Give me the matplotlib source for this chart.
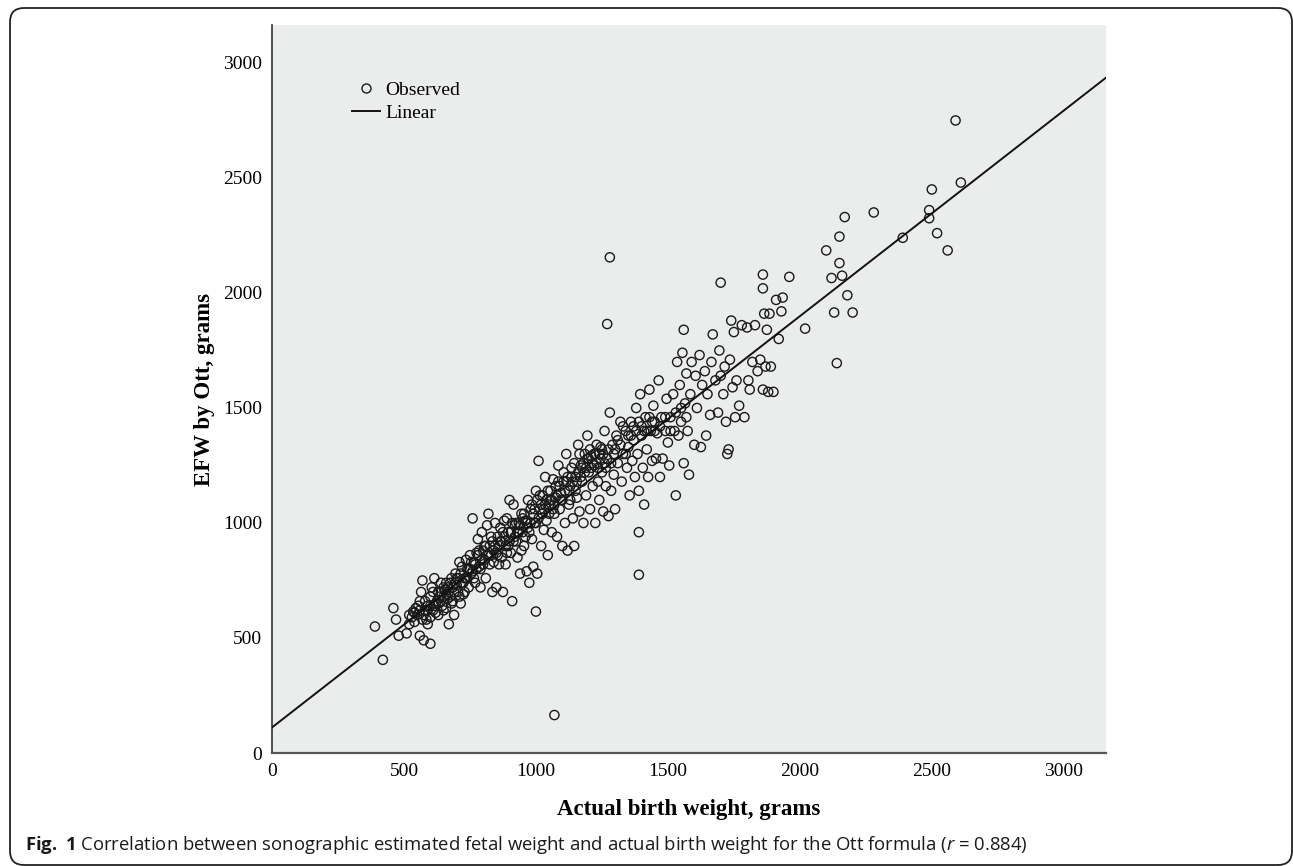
import numpy as np
import matplotlib
matplotlib.use("Agg")
import matplotlib.pyplot as plt
from matplotlib.patches import FancyBboxPatch
from matplotlib.lines import Line2D
from matplotlib.transforms import IdentityTransform

# actual birth weight (g), EFW by Ott (g)
points = [
    (390, 550), (420, 405), (460, 630), (470, 580), (480, 510), (510, 520), (520, 600), (530, 590),
    (535, 615), (540, 570), (550, 600), (555, 640), (560, 660), (565, 700), (570, 750), (560, 510),
    (575, 490), (580, 620), (585, 580), (590, 560), (600, 475), (600, 640), (605, 720), (610, 700),
    (615, 760), (620, 610), (625, 660), (630, 600), (635, 680), (640, 740), (645, 640), (650, 620),
    (655, 710), (660, 690), (665, 670), (670, 560), (675, 740), (680, 650), (685, 720), (690, 600),
    (695, 780), (700, 760), (705, 700), (710, 830), (715, 650), (720, 810), (725, 690), (730, 760),
    (735, 840), (740, 800), (745, 720), (750, 860), (755, 780), (760, 1020), (765, 830), (770, 740),
    (775, 870), (780, 930), (785, 810), (790, 720), (795, 960), (800, 880), (805, 840), (810, 760),
    (815, 990), (820, 1040), (825, 900), (830, 860), (835, 700), (840, 880), (845, 1000), (850, 720),
    (855, 940), (860, 820), (865, 980), (870, 850), (875, 700), (880, 1010), (885, 900), (890, 1020),
    (895, 960), (900, 1100), (905, 870), (910, 660), (915, 1080), (920, 990), (925, 920), (930, 850),
    (935, 1000), (940, 780), (945, 1040), (950, 960), (955, 900), (960, 1010), (965, 790), (970, 1100),
    (975, 740), (980, 1060), (985, 930), (990, 810), (995, 1000), (1000, 615), (1000, 1140), (1005, 780),
    (1010, 1270), (1015, 1060), (1020, 900), (1025, 1120), (1030, 970), (1035, 1200), (1040, 1010),
    (1045, 860), (1050, 1080), (1055, 1140), (1060, 960), (1065, 1190), (1070, 165), (1070, 1040),
    (1075, 1110), (1080, 940), (1085, 1250), (1090, 1060), (1095, 1130), (1100, 900), (1105, 1180),
    (1110, 1000), (1115, 1300), (1120, 880), (1125, 1080), (1130, 1160), (1135, 1240), (1140, 1020),
    (1145, 900), (1150, 1200), (1155, 1110), (1160, 1340), (1165, 1050), (1170, 1250), (1175, 1180),
    (1180, 1000), (1185, 1300), (1190, 1120), (1195, 1380), (1200, 1220), (1205, 1060), (1210, 1290),
    (1215, 1160), (1220, 1250), (1225, 1000), (1230, 1340), (1235, 1180), (1240, 1100), (1245, 1280),
    (1250, 1220), (1255, 1050), (1260, 1400), (1265, 1160), (1270, 1865), (1270, 1280), (1275, 1030),
    (1280, 2155), (1280, 1480), (1285, 1140), (1290, 1340), (1295, 1210), (1300, 1060), (1305, 1380),
    (1310, 1260), (1320, 1440), (1325, 1180), (1330, 1300), (1340, 1400), (1345, 1240), (1350, 1330),
    (1355, 1120), (1360, 1440), (1365, 1270), (1370, 1360), (1375, 1200), (1380, 1500), (1385, 1300),
    (1390, 775), (1390, 960), (1390, 1140), (1395, 1560), (1400, 1380), (1405, 1240), (1410, 1080),
    (1415, 1460), (1420, 1320), (1425, 1200), (1430, 1580), (1435, 1400), (1440, 1270), (1445, 1510),
    (1450, 1440), (1455, 1280), (1460, 1390), (1465, 1620), (1470, 1200), (1475, 1460), (1480, 1280),
    (1490, 1400), (1495, 1540), (1500, 1350), (1505, 1250), (1510, 1460), (1520, 1560), (1525, 1400),
    (1530, 1120), (1535, 1700), (1540, 1380), (1545, 1600), (1550, 1440), (1555, 1740), (1560, 1840),
    (1560, 1260), (1565, 1520), (1570, 1650), (1575, 1400), (1580, 1210), (1585, 1560), (1590, 1700),
    (1600, 1340), (1605, 1640), (1610, 1500), (1620, 1730), (1625, 1330), (1630, 1600), (1640, 1660),
    (1645, 1380), (1650, 1560), (1660, 1470), (1665, 1700), (1670, 1820), (1680, 1620), (1690, 1480),
    (1695, 1750), (1700, 2045), (1700, 1640), (1710, 1560), (1715, 1680), (1720, 1440), (1725, 1300),
    (1730, 1320), (1735, 1710), (1740, 1880), (1745, 1590), (1750, 1830), (1755, 1460), (1760, 1620),
    (1770, 1510), (1780, 1860), (1790, 1460), (1800, 1850), (1805, 1620), (1810, 1580), (1820, 1700),
    (1830, 1860), (1840, 1660), (1850, 1710), (1860, 2080), (1860, 2020), (1860, 1580), (1865, 1910),
    (1870, 1680), (1875, 1840), (1880, 1570), (1885, 1910), (1890, 1680), (1900, 1570), (1910, 1970),
    (1920, 1800), (1930, 1920), (1935, 1980), (1960, 2070), (2020, 1845), (2100, 2185), (2120, 2065),
    (2130, 1915), (2140, 1695), (2150, 2245), (2150, 2130), (2160, 2075), (2170, 2330), (2180, 1990),
    (2200, 1915), (2280, 2350), (2390, 2240), (2490, 2360), (2490, 2325), (2500, 2450), (2520, 2260),
    (2560, 2185), (2590, 2750), (2610, 2480),
    # denser core of the cloud
    (545, 630), (575, 600), (590, 620), (600, 590), (615, 640), (630, 650), (640, 700), (650, 680),
    (660, 740), (670, 700), (680, 760), (690, 700), (700, 730), (710, 680), (720, 740), (730, 700),
    (740, 760), (750, 800), (760, 790), (770, 820), (780, 860), (790, 800), (800, 820), (810, 900),
    (820, 860), (830, 940), (840, 830), (850, 870), (860, 900), (870, 920), (880, 940), (890, 870),
    (900, 920), (910, 1000), (920, 940), (930, 960), (940, 990), (950, 1020), (960, 940), (970, 980),
    (980, 1000), (990, 1040), (1000, 1000), (1010, 1020), (1020, 1080), (1030, 1060), (1040, 1100),
    (1050, 1040), (1060, 1100), (1070, 1080), (1080, 1120), (1090, 1160), (1100, 1100), (1110, 1140),
    (1120, 1200), (1130, 1100), (1140, 1180), (1150, 1140), (1160, 1220), (1170, 1200), (1180, 1260),
    (1190, 1240), (1200, 1280), (1210, 1240), (1220, 1300), (1230, 1260), (1240, 1300), (1250, 1320),
    (1260, 1260), (1300, 1320), (1320, 1340), (1340, 1300), (1360, 1380), (1380, 1400), (1400, 1420),
    (1420, 1400), (1440, 1440),
    (520, 560), (540, 610), (560, 620), (570, 580), (580, 660), (590, 640), (600, 680), (610, 620),
    (620, 650), (630, 700), (640, 660), (650, 720), (660, 630), (665, 720), (675, 680), (685, 660),
    (695, 740), (705, 760), (715, 780), (725, 740), (735, 760), (745, 800), (755, 830), (765, 760),
    (775, 800), (785, 880), (795, 840), (805, 900), (815, 860), (825, 820), (835, 920), (845, 900),
    (855, 860), (865, 920), (875, 960), (885, 820), (895, 900), (905, 960), (915, 920), (925, 1000),
    (935, 960), (945, 880), (955, 1040), (965, 1000), (975, 960), (985, 1080), (995, 1060), (1005, 1100),
    (1015, 1120), (1025, 1040), (1035, 1080), (1045, 1140), (1055, 1100), (1065, 1060), (1075, 1160),
    (1085, 1180), (1095, 1100), (1105, 1220), (1115, 1180), (1125, 1140), (1135, 1200), (1145, 1260),
    (1155, 1180), (1165, 1300), (1175, 1240), (1185, 1220), (1195, 1280), (1205, 1320), (1215, 1260),
    (1225, 1300), (1235, 1240), (1245, 1330), (1255, 1300), (1265, 1240), (1275, 1320), (1285, 1260),
    (1295, 1300), (1310, 1360), (1330, 1420), (1350, 1380), (1370, 1420), (1390, 1440), (1410, 1400),
    (1430, 1460), (1450, 1400), (1470, 1420), (1490, 1460), (1510, 1400), (1530, 1480), (1550, 1500),
    (1570, 1460),
]
actual_weight = [p[0] for p in points]
efw_ott = [p[1] for p in points]

# linear fit shown in the figure
fit_intercept = 111
fit_slope = 0.894

x_ticks = [0, 500, 1000, 1500, 2000, 2500, 3000]
y_ticks = [0, 500, 1000, 1500, 2000, 2500, 3000]

serif = ["Liberation Serif", "DejaVu Serif"]
plt.rcParams["mathtext.fontset"] = "custom"
plt.rcParams["mathtext.rm"] = "Open Sans"
plt.rcParams["mathtext.it"] = "Open Sans:italic"
plt.rcParams["mathtext.bf"] = "Open Sans:bold"

W, H = 1293, 866
fig = plt.figure(figsize=(W / 100, H / 100), dpi=100)
ax = fig.add_axes([272 / W, 1 - 753 / H, (1106 - 272) / W, (753 - 25) / H])
ax.set_facecolor("#ebecec")

ax.scatter(actual_weight, efw_ott, s=44, facecolors="none", edgecolors="#1a1a1a",
           linewidths=1.0, zorder=3)

xlim = (0, 3160)
xs = np.array(xlim)
ax.plot(xs, fit_intercept + fit_slope * xs, color="#111111", lw=1.4, zorder=4)

ax.set_xlim(*xlim)
ax.set_ylim(0, 3165)
ax.set_xticks(x_ticks)
ax.set_yticks(y_ticks)
ax.tick_params(length=0, labelsize=14, pad=7)
for lab in ax.get_xticklabels() + ax.get_yticklabels():
    lab.set_family(serif)
for side in ["top", "right"]:
    ax.spines[side].set_visible(False)
ax.spines["left"].set_color("#333333")
ax.spines["bottom"].set_color("#555555")
ax.spines["left"].set_linewidth(1.2)
ax.spines["bottom"].set_linewidth(1.6)

ax.set_xlabel("Actual birth weight, grams", family=serif, fontsize=16.5,
              fontweight="bold", labelpad=14)
ax.set_ylabel("EFW by Ott, grams", family=serif, fontsize=16.5,
              fontweight="bold", labelpad=6)

handles = [
    Line2D([], [], ls="none", marker="o", markersize=6.5, markerfacecolor="none",
           markeredgecolor="#1a1a1a", markeredgewidth=1.0),
    Line2D([], [], color="#111111", lw=1.4),
]
leg = ax.legend(handles, ["Observed", "Linear"], loc="upper left",
                bbox_to_anchor=(0.096, 0.923), frameon=False, borderpad=0,
                borderaxespad=0, handlelength=1.45, handletextpad=0.25,
                labelspacing=0.3, prop={"family": serif, "size": 14})

fig.text(25 / W, 1 - 845 / H,
         r"$\mathbf{Fig.\ 1}$ Correlation between sonographic estimated fetal weight and "
         r"actual birth weight for the Ott formula ($\mathit{r}$ = 0.884)",
         family="Open Sans", fontsize=13.3, va="center", ha="left", color="#1a1a1a")

frame = FancyBboxPatch((10, 1), 1282, 857, boxstyle="round,pad=0,rounding_size=14",
                       transform=IdentityTransform(), fill=False, ec="#222222", lw=1.3)
fig.patches.append(frame)

fig.savefig("out.png", dpi=100)
